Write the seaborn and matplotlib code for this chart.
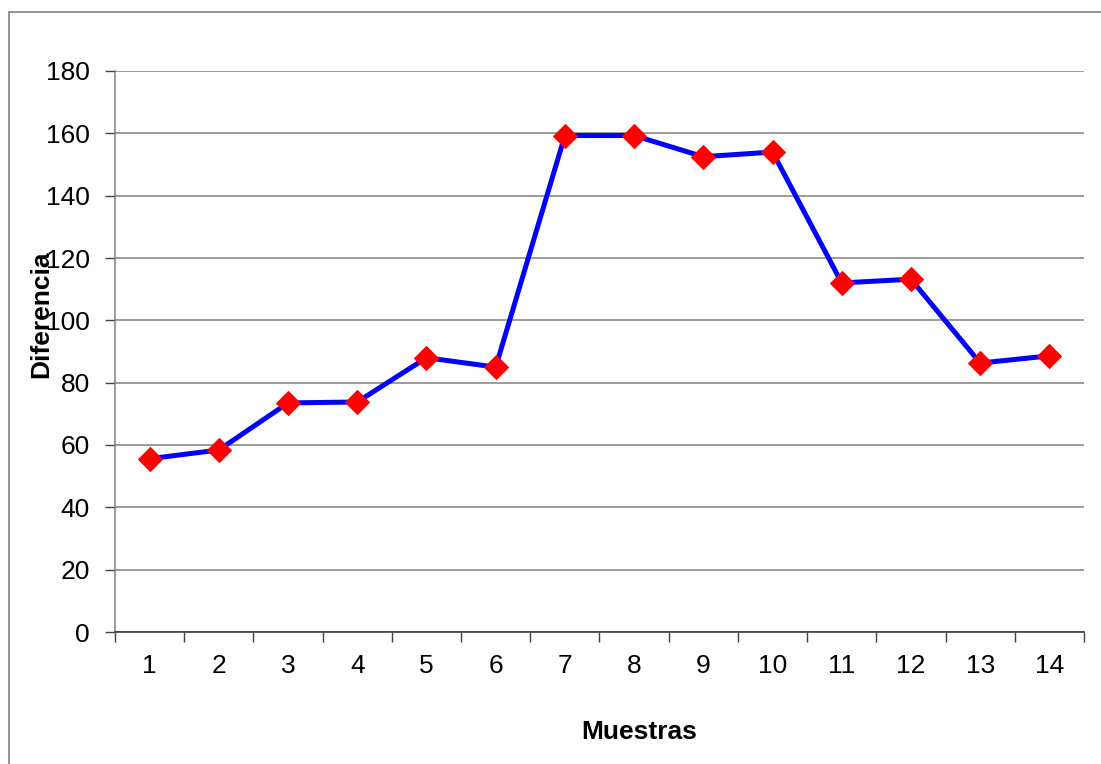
import matplotlib
matplotlib.use("Agg")
import matplotlib.pyplot as plt
import seaborn as sns
import pandas as pd
import numpy as np
from matplotlib.lines import Line2D

muestras = [1, 2, 3, 4, 5, 6, 7, 8, 9, 10, 11, 12, 13, 14]
diferencia = [55.6, 58.4, 73.5, 73.8, 88.0, 85.0, 159.3, 159.3, 152.5, 154.0,
              112.0, 113.2, 86.3, 88.6]
y_ticks = [0, 20, 40, 60, 80, 100, 120, 140, 160, 180]

df = pd.DataFrame({"Muestras": muestras, "Diferencia": diferencia})

sns.set_theme(style="white")
plt.rcParams["font.family"] = ["Liberation Sans", "DejaVu Sans"]
plt.rcParams["text.color"] = "black"

W, H = 1101, 764
fig = plt.figure(figsize=(W / 100, H / 100), dpi=100)
ax = fig.add_axes([115 / W, 1 - 632 / H, (1084 - 115) / W, (632 - 71) / H])

sns.lineplot(data=df, x="Muestras", y="Diferencia", ax=ax, color="#0000FF",
             linewidth=3.6, marker="D", markersize=12,
             markerfacecolor="#FF0000", markeredgecolor="#FF0000", zorder=3)

ax.set_xlim(0.5, 14.5)
ax.set_ylim(0, 180)
ax.set_yticks(y_ticks)
ax.yaxis.grid(True, color="#808080", linewidth=1.1)
ax.xaxis.grid(False)

# category boundaries carry the tick marks, labels sit at the centres
ax.set_xticks(np.arange(0.5, 15.0, 1.0))
ax.set_xticklabels([])
ax.set_xticks(muestras, minor=True)
ax.set_xticklabels([str(m) for m in muestras], minor=True)
ax.tick_params(axis="x", which="major", direction="out", length=7, width=1,
               color="#404040", bottom=True)
ax.tick_params(axis="x", which="minor", length=0, pad=16, labelsize=19,
               labelcolor="black")
ax.tick_params(axis="y", direction="out", length=7, width=1, color="#404040",
               left=True, pad=11, labelsize=19, labelcolor="black")

for side in ["top", "right"]:
    ax.spines[side].set_visible(False)
ax.spines["left"].set_color("#808080")
ax.spines["left"].set_linewidth(1.1)
ax.spines["bottom"].set_color("#303030")
ax.spines["bottom"].set_linewidth(1.1)

ax.set_xlabel("")
ax.set_ylabel("")
fig.text(41 / W, 1 - 314 / H, "Diferencia", rotation=90, ha="center",
         va="center", fontsize=19, fontweight="bold", color="black")
fig.text(639 / W, 1 - 732 / H, "Muestras", ha="center", va="center",
         fontsize=19, fontweight="bold", color="black")

# chart frame
fig.add_artist(Line2D([9 / W, 9 / W], [0, 1 - 12 / H], transform=fig.transFigure,
                      color="#808080", linewidth=1.2))
fig.add_artist(Line2D([9 / W, 1], [1 - 12 / H, 1 - 12 / H], transform=fig.transFigure,
                      color="#808080", linewidth=1.2))

fig.savefig("out.png", dpi=100, facecolor="white")
